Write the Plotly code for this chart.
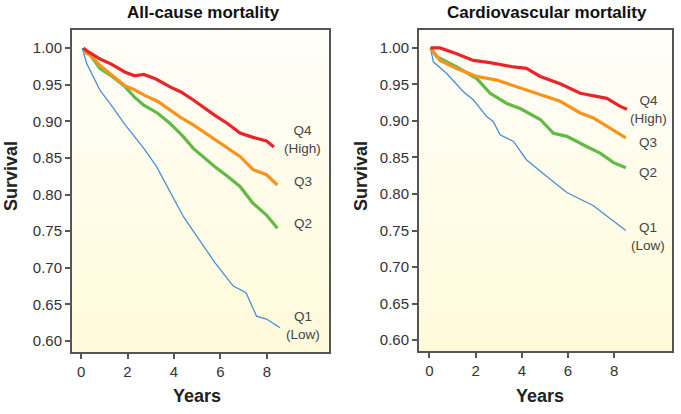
import plotly.graph_objects as go
from plotly.subplots import make_subplots

# ---- data ----
ac_q4_t = [0.1, 0.3, 0.82, 1.3, 1.9, 2.3, 2.7, 3.2, 3.83, 4.3, 4.83, 5.3, 5.76, 6.3, 6.84, 7.4, 7.98, 8.3]
ac_q4_s = [1.000, 0.995, 0.985, 0.978, 0.967, 0.962, 0.964, 0.958, 0.947, 0.940, 0.929, 0.918, 0.908, 0.897, 0.884, 0.878, 0.873, 0.865]

ac_q3_t = [0.1, 0.4, 0.82, 1.3, 1.9, 2.3, 2.7, 3.3, 3.83, 4.3, 4.83, 5.3, 5.76, 6.3, 6.84, 7.4, 7.98, 8.45]
ac_q3_s = [0.995, 0.990, 0.976, 0.963, 0.948, 0.943, 0.936, 0.927, 0.915, 0.905, 0.895, 0.885, 0.874, 0.863, 0.852, 0.834, 0.827, 0.813]

ac_q2_t = [0.1, 0.4, 0.82, 1.3, 1.9, 2.3, 2.7, 3.3, 3.83, 4.4, 4.83, 5.3, 5.76, 6.3, 6.84, 7.4, 7.98, 8.45]
ac_q2_s = [0.998, 0.990, 0.972, 0.962, 0.947, 0.933, 0.922, 0.911, 0.897, 0.879, 0.863, 0.850, 0.838, 0.825, 0.811, 0.788, 0.772, 0.754]

ac_q1_t = [0.05, 0.24, 0.82, 1.25, 1.9, 2.7, 3.25, 3.83, 4.4, 4.83, 5.76, 6.55, 7.1, 7.55, 7.98, 8.56]
ac_q1_s = [1.000, 0.979, 0.942, 0.924, 0.895, 0.863, 0.838, 0.804, 0.770, 0.750, 0.707, 0.675, 0.666, 0.634, 0.630, 0.618]

cv_q4_t = [0.05, 0.46, 1.18, 1.9, 2.63, 3.64, 4.2, 4.8, 5.66, 6.53, 7.68, 8.26, 8.55]
cv_q4_s = [1.000, 1.000, 0.992, 0.983, 0.980, 0.974, 0.972, 0.961, 0.951, 0.938, 0.931, 0.920, 0.916]

cv_q3_t = [0.05, 0.46, 1.18, 2.05, 2.92, 3.78, 4.8, 5.66, 6.53, 7.1, 7.68, 8.5]
cv_q3_s = [1.000, 0.983, 0.972, 0.961, 0.956, 0.947, 0.936, 0.927, 0.911, 0.904, 0.893, 0.877]

cv_q2_t = [0.05, 0.32, 1.18, 2.05, 2.63, 3.35, 3.93, 4.8, 5.37, 5.95, 6.8, 7.39, 7.97, 8.5]
cv_q2_s = [1.000, 0.988, 0.974, 0.958, 0.938, 0.924, 0.917, 0.902, 0.883, 0.879, 0.865, 0.856, 0.843, 0.836]

cv_q1_t = [0.05, 0.17, 0.75, 1.47, 1.9, 2.48, 2.77, 3.06, 3.64, 4.2, 5.08, 5.95, 7.1, 7.97, 8.5]
cv_q1_s = [1.000, 0.981, 0.965, 0.940, 0.929, 0.906, 0.899, 0.881, 0.872, 0.847, 0.824, 0.802, 0.784, 0.763, 0.750]

panel_titles = ["All-cause mortality", "Cardiovascular mortality"]
y_ticks = [0.60, 0.65, 0.70, 0.75, 0.80, 0.85, 0.90, 0.95, 1.00]
x_ticks = [0, 2, 4, 6, 8]

lab_ac = ["Q4<br>(High)", "Q3", "Q2", "Q1<br>(Low)"]
lab_ac_y = [0.875, 0.818, 0.760, 0.621]
lab_cv = ["Q4<br>(High)", "Q3", "Q2", "Q1<br>(Low)"]
lab_cv_y = [0.916, 0.871, 0.830, 0.742]

colors = ["#e8252b", "#f7941e", "#62b946", "#4b8fd2"]
widths = [3.2, 3.2, 3.2, 1.3]

fig = make_subplots(rows=1, cols=2)

ac = [(ac_q4_t, ac_q4_s), (ac_q3_t, ac_q3_s), (ac_q2_t, ac_q2_s), (ac_q1_t, ac_q1_s)]
cv = [(cv_q4_t, cv_q4_s), (cv_q3_t, cv_q3_s), (cv_q2_t, cv_q2_s), (cv_q1_t, cv_q1_s)]

for col, series in [(1, ac), (2, cv)]:
    for i, (t, s) in reversed(list(enumerate(series))):
        fig.add_trace(go.Scatter(x=t, y=s, mode="lines", line=dict(color=colors[i], width=widths[i]),
                                 showlegend=False, hoverinfo="skip"), row=1, col=col)

TXT = "#333333"
FONT = "Liberation Sans, Arial, sans-serif"
W, H = 681, 414

fig.update_layout(
    width=W, height=H, margin=dict(l=0, r=0, t=0, b=0, autoexpand=False),
    paper_bgcolor="white", plot_bgcolor="rgba(0,0,0,0)",
    font=dict(family=FONT, color=TXT, size=14),
    xaxis=dict(domain=[72 / W, 329 / W]),
    xaxis2=dict(domain=[419 / W, 672 / W]),
    yaxis=dict(domain=[1 - 352 / H, 1 - 30 / H]),
    yaxis2=dict(domain=[1 - 351 / H, 1 - 30 / H]),
)

xr = [[-0.39, 10.67], [-0.45, 10.5]]
for k, ax in enumerate(["xaxis", "xaxis2"]):
    fig.layout[ax].update(range=xr[k], tickvals=x_ticks, ticks="outside", ticklen=5, tickwidth=1.5,
                          tickcolor="#555", showline=True, linecolor="#555", linewidth=2, mirror=True,
                          automargin=False, showgrid=False, zeroline=False,
                          tickfont=dict(size=15, color=TXT))
for k, ax in enumerate(["yaxis", "yaxis2"]):
    fig.layout[ax].update(range=[0.585, 1.0246], tickvals=y_ticks, tickformat=".2f", ticks="outside",
                          ticklen=5, tickwidth=1.5, tickcolor="#555", showline=True, linecolor="#555",
                          linewidth=2, mirror=True, automargin=False,
                          showgrid=False, zeroline=False, tickfont=dict(size=15, color=TXT))

# gradient background
n = 24
for xr_, yr_ in [("x domain", "y domain"), ("x2 domain", "y2 domain")]:
    for j in range(n):
        f = j / (n - 1)
        g = int(round(254 - 4 * f))
        b = int(round(248 - 30 * f))
        fig.add_shape(type="rect", xref=xr_, yref=yr_, x0=0, x1=1, y0=1 - (j + 1) / n, y1=1 - j / n,
                      fillcolor=f"rgb(255,{g},{b})", line=dict(width=0), layer="below")

# panel titles and axis titles
title_x = [203 / W, 547 / W]
years_x = [197 / W, 540 / W]
surv_x = [11 / W, 361 / W]
for k in range(2):
    fig.add_annotation(text=f"<b>{panel_titles[k]}</b>", xref="paper", yref="paper", x=title_x[k],
                       y=1 - 12 / H, showarrow=False, font=dict(size=17, color="#111"),
                       xanchor="center", yanchor="middle")
    fig.add_annotation(text="<b>Years</b>", xref="paper", yref="paper", x=years_x[k], y=1 - 396 / H,
                       showarrow=False, font=dict(size=18, color="#222"),
                       xanchor="center", yanchor="middle")
    fig.add_annotation(text="<b>Survival</b>", xref="paper", yref="paper", x=surv_x[k], y=1 - 176 / H,
                       showarrow=False, textangle=-90, font=dict(size=18, color="#222"),
                       xanchor="center", yanchor="middle")

# series labels
for lab, yv in zip(lab_ac, lab_ac_y):
    fig.add_annotation(text=lab, x=9.55, y=yv, xref="x", yref="y", showarrow=False,
                       font=dict(size=13.5, color="#444"), xanchor="center", yanchor="middle")
for lab, yv in zip(lab_cv, lab_cv_y):
    fig.add_annotation(text=lab, x=9.47, y=yv, xref="x2", yref="y2", showarrow=False,
                       font=dict(size=13.5, color="#444"), xanchor="center", yanchor="middle")

fig.write_html("out.html", config={"displayModeBar": False},
               post_script="document.body.style.margin='0px';")
